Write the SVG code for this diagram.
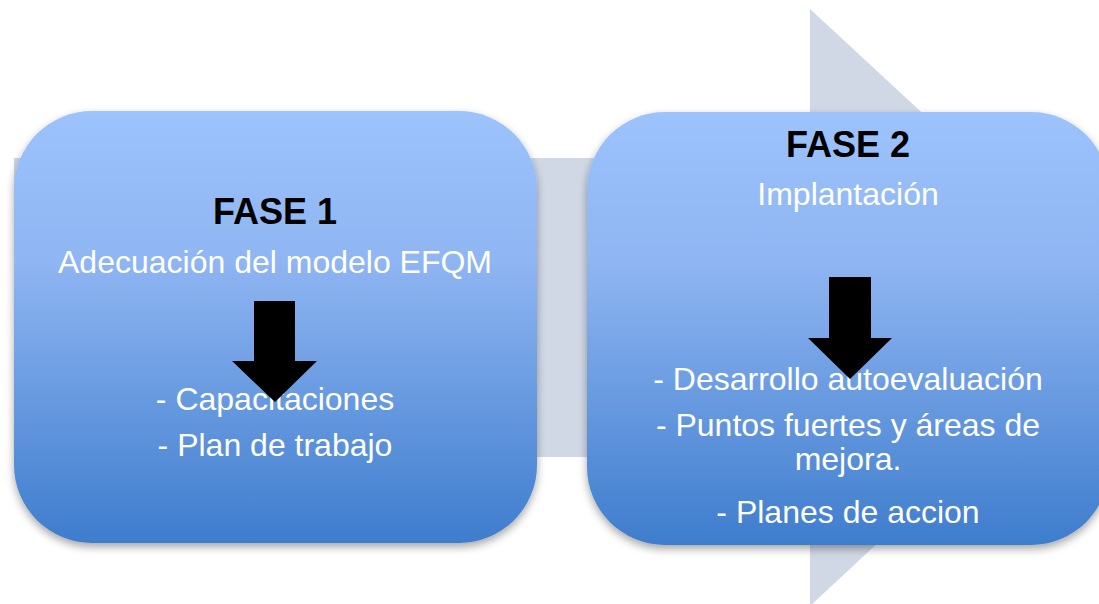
<svg xmlns="http://www.w3.org/2000/svg" width="1099" height="604" viewBox="0 0 1099 604">
<defs>
<linearGradient id="boxGrad" x1="0" y1="0" x2="0" y2="1">
<stop offset="0" stop-color="#9dc3fd"/>
<stop offset="0.35" stop-color="#8fb5f2"/>
<stop offset="1" stop-color="#3e7dcd"/>
</linearGradient>
<filter id="shadow" x="-10%" y="-10%" width="120%" height="125%">
<feDropShadow dx="0" dy="4" stdDeviation="4" flood-color="#000" flood-opacity="0.35"/>
</filter>
</defs>
<style>
.box{fill:url(#boxGrad);filter:url(#shadow);}
.title{font-family:"Liberation Sans",Arial,sans-serif;font-weight:bold;font-size:36px;fill:#000;text-anchor:middle;}
.body{font-family:"Liberation Sans",Arial,sans-serif;font-size:32px;fill:#fff;text-anchor:middle;}
.down{fill:#000;}
</style>
<rect width="1099" height="604" fill="#fff"/>
<g id="connectors">
<polygon points="14,158 810,158 810,9 1132,307 810,606 810,457 14,457" fill="#d0d8e6"/>
</g>
<g id="fase1">
<rect class="box" x="14" y="111" width="523" height="432" rx="78" ry="78"/>
<text class="title" x="275" y="224">FASE 1</text>
<text class="body" x="275" y="273">Adecuación del modelo EFQM</text>
<text class="body" x="275" y="410">- Capacitaciones</text>
<text class="body" x="275" y="456">- Plan de trabajo</text>
<polygon class="down" points="254,301 295,301 295,361 317,361 275,402 232,361 254,361"/>
</g>
<g id="fase2">
<rect class="box" x="587" y="112" width="522" height="433" rx="78" ry="78"/>
<text class="title" x="848" y="157">FASE 2</text>
<text class="body" x="848" y="205">Implantación</text>
<text class="body" x="848" y="390">- Desarrollo autoevaluación</text>
<text class="body" x="848" y="436">- Puntos fuertes y áreas de</text>
<text class="body" x="848" y="470">mejora.</text>
<text class="body" x="848" y="523">- Planes de accion</text>
<polygon class="down" points="829,277 871,277 871,338 892,338 850,379 808,338 829,338"/>
</g>
</svg>
